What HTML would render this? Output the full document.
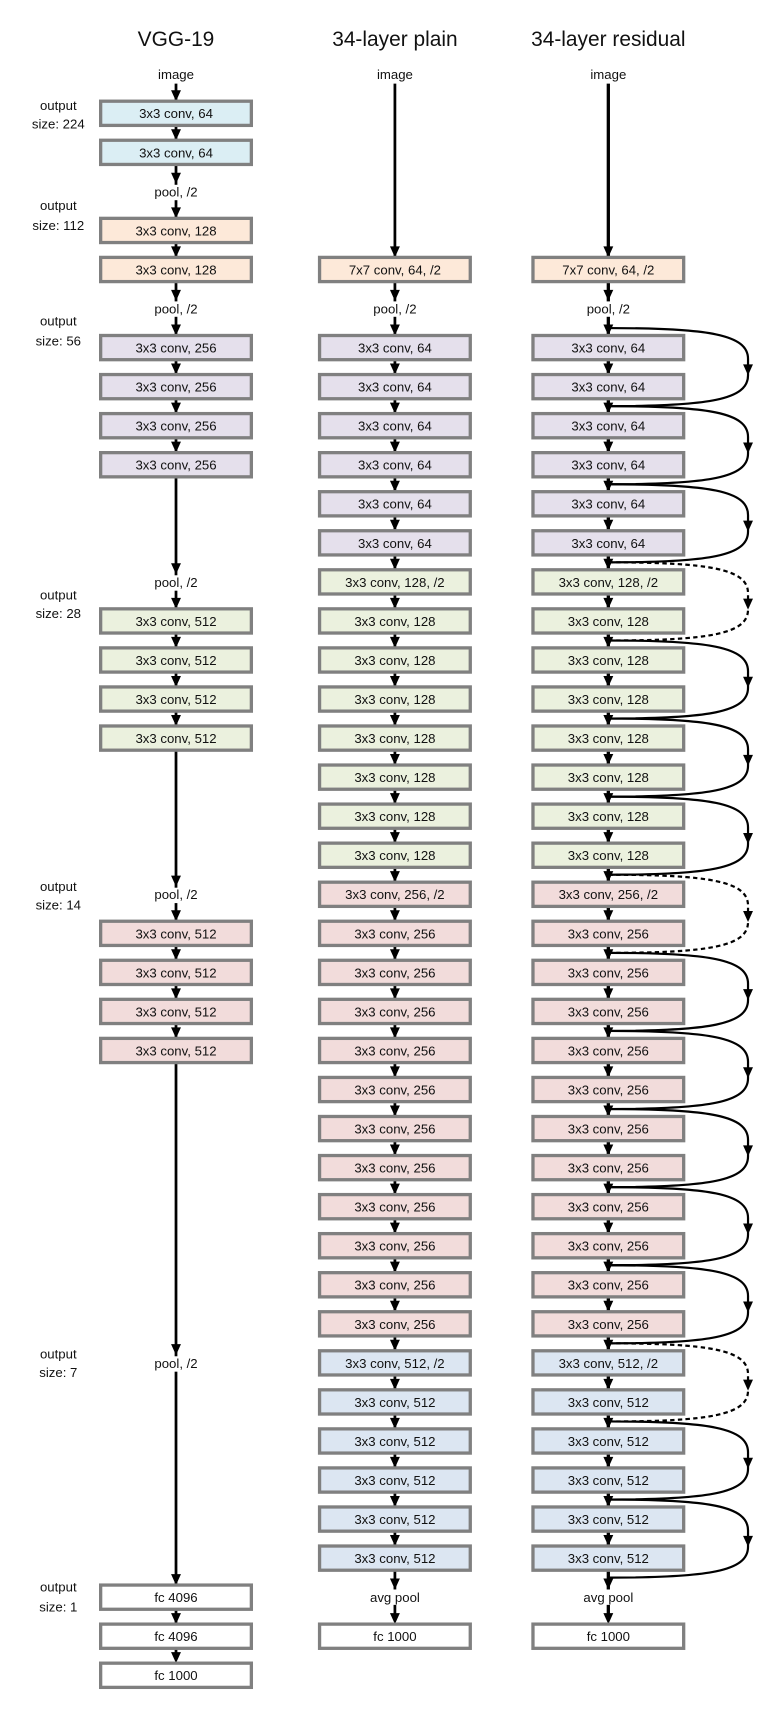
<!DOCTYPE html>
<html><head><meta charset="utf-8"><style>
html,body{margin:0;padding:0;background:#fff}
svg{display:block}
text{font-family:"Liberation Sans",sans-serif;font-size:12px;fill:#111;text-anchor:middle}
.t{font-size:19px}
.o{font-size:12px}
rect.b{stroke:#808080;stroke-width:3}
.c1{fill:#dbeef4}.c2{fill:#fde9d9}.c3{fill:#e5e0ec}.c4{fill:#ebf1de}.c5{fill:#f2dcdb}.c6{fill:#dce6f2}.c7{fill:#fff}
</style></head><body>
<svg width="784" height="1713" viewBox="0 0 712.7 1557.3" preserveAspectRatio="none" xmlns="http://www.w3.org/2000/svg">
<defs>
<polygon id="a" points="-4.5,-10 4.5,-10 0,0" fill="#000"/>
<g id="sk"><path d="M553,0 C645,0 680,6 680,28 L680,43 C680,65 645,71 553,71" fill="none" stroke="#000" stroke-width="2"/><polygon points="675.5,33 684.5,33 680,43" fill="#000"/></g>
<g id="skd"><path d="M553,0 C645,0 680,6 680,28 L680,43 C680,65 645,71 553,71" fill="none" stroke="#000" stroke-width="2" stroke-dasharray="4,3"/><polygon points="675.5,33 684.5,33 680,43" fill="#000"/></g>
</defs>

<text class="t" x="160" y="42">VGG-19</text>
<text class="t" x="359" y="42">34-layer plain</text>
<text class="t" x="553" y="42">34-layer residual</text>

<g class="o">
<text x="53" y="100">output</text><text x="53" y="117">size: 224</text>
<text x="53" y="191">output</text><text x="53" y="209">size: 112</text>
<text x="53" y="296">output</text><text x="53" y="314">size: 56</text>
<text x="53" y="545">output</text><text x="53" y="562">size: 28</text>
<text x="53" y="810">output</text><text x="53" y="827">size: 14</text>
<text x="53" y="1235">output</text><text x="53" y="1252">size: 7</text>
<text x="53" y="1447">output</text><text x="53" y="1465">size: 1</text>
</g>

<use href="#sk" y="298.25"/><use href="#sk" y="369.25"/><use href="#sk" y="440.25"/>
<use href="#skd" y="511.25"/>
<use href="#sk" y="582.25"/><use href="#sk" y="653.25"/><use href="#sk" y="724.25"/>
<use href="#skd" y="795.25"/>
<use href="#sk" y="866.25"/><use href="#sk" y="937.25"/><use href="#sk" y="1008.25"/><use href="#sk" y="1079.25"/><use href="#sk" y="1150.25"/>
<use href="#skd" y="1221.25"/>
<use href="#sk" y="1292.25"/><use href="#sk" y="1363.25"/>

<g transform="translate(160,0)">
<line x1="0" y1="76" x2="0" y2="1505" stroke="#000" stroke-width="2.5"/>
<rect x="-30" y="168" width="60" height="14" fill="#fff"/>
<rect x="-30" y="274" width="60" height="14" fill="#fff"/>
<rect x="-30" y="523" width="60" height="14" fill="#fff"/>
<rect x="-30" y="807" width="60" height="14" fill="#fff"/>
<rect x="-30" y="1233" width="60" height="14" fill="#fff"/>
<text x="0" y="72">image</text>
<text x="0" y="178.5">pool, /2</text>
<text x="0" y="285">pool, /2</text>
<text x="0" y="533.5">pool, /2</text>
<text x="0" y="817.5">pool, /2</text>
<text x="0" y="1243.5">pool, /2</text>
<use href="#a" y="92"/><use href="#a" y="127.5"/><use href="#a" y="167"/><use href="#a" y="198.5"/><use href="#a" y="234"/><use href="#a" y="273.5"/>
<use href="#a" y="305"/><use href="#a" y="340.5"/><use href="#a" y="376"/><use href="#a" y="411.5"/><use href="#a" y="522"/>
<use href="#a" y="553.5"/><use href="#a" y="589"/><use href="#a" y="624.5"/><use href="#a" y="660"/><use href="#a" y="806"/>
<use href="#a" y="837.5"/><use href="#a" y="873"/><use href="#a" y="908.5"/><use href="#a" y="944"/><use href="#a" y="1232"/>
<use href="#a" y="1441"/><use href="#a" y="1476.5"/><use href="#a" y="1512"/>
<rect class="b c1" x="-68.5" y="92" width="137" height="22"/><text x="0" y="107.5">3x3 conv, 64</text>
<rect class="b c1" x="-68.5" y="127.5" width="137" height="22"/><text x="0" y="143">3x3 conv, 64</text>
<rect class="b c2" x="-68.5" y="198.5" width="137" height="22"/><text x="0" y="214">3x3 conv, 128</text>
<rect class="b c2" x="-68.5" y="234" width="137" height="22"/><text x="0" y="249.5">3x3 conv, 128</text>
<rect class="b c3" x="-68.5" y="305" width="137" height="22"/><text x="0" y="320.5">3x3 conv, 256</text>
<rect class="b c3" x="-68.5" y="340.5" width="137" height="22"/><text x="0" y="356">3x3 conv, 256</text>
<rect class="b c3" x="-68.5" y="376" width="137" height="22"/><text x="0" y="391.5">3x3 conv, 256</text>
<rect class="b c3" x="-68.5" y="411.5" width="137" height="22"/><text x="0" y="427">3x3 conv, 256</text>
<rect class="b c4" x="-68.5" y="553.5" width="137" height="22"/><text x="0" y="569">3x3 conv, 512</text>
<rect class="b c4" x="-68.5" y="589" width="137" height="22"/><text x="0" y="604.5">3x3 conv, 512</text>
<rect class="b c4" x="-68.5" y="624.5" width="137" height="22"/><text x="0" y="640">3x3 conv, 512</text>
<rect class="b c4" x="-68.5" y="660" width="137" height="22"/><text x="0" y="675.5">3x3 conv, 512</text>
<rect class="b c5" x="-68.5" y="837.5" width="137" height="22"/><text x="0" y="853">3x3 conv, 512</text>
<rect class="b c5" x="-68.5" y="873" width="137" height="22"/><text x="0" y="888.5">3x3 conv, 512</text>
<rect class="b c5" x="-68.5" y="908.5" width="137" height="22"/><text x="0" y="924">3x3 conv, 512</text>
<rect class="b c5" x="-68.5" y="944" width="137" height="22"/><text x="0" y="959.5">3x3 conv, 512</text>
<rect class="b c7" x="-68.5" y="1441" width="137" height="22"/><text x="0" y="1456.5">fc 4096</text>
<rect class="b c7" x="-68.5" y="1476.5" width="137" height="22"/><text x="0" y="1492">fc 4096</text>
<rect class="b c7" x="-68.5" y="1512" width="137" height="22"/><text x="0" y="1527.5">fc 1000</text>
</g>

<g transform="translate(359,0)">
<line x1="0" y1="76" x2="0" y2="1470" stroke="#000" stroke-width="2.5"/>
<rect x="-30" y="274" width="60" height="14" fill="#fff"/>
<rect x="-30" y="1445" width="60" height="14" fill="#fff"/>
<text x="0" y="72">image</text>
<text x="0" y="285">pool, /2</text>
<text x="0" y="1456.5">avg pool</text>
<use href="#a" y="234"/><use href="#a" y="273.5"/>
<use href="#a" y="305"/><use href="#a" y="340.5"/><use href="#a" y="376"/><use href="#a" y="411.5"/><use href="#a" y="447"/><use href="#a" y="482.5"/>
<use href="#a" y="518"/><use href="#a" y="553.5"/><use href="#a" y="589"/><use href="#a" y="624.5"/><use href="#a" y="660"/><use href="#a" y="695.5"/><use href="#a" y="731"/><use href="#a" y="766.5"/>
<use href="#a" y="802"/><use href="#a" y="837.5"/><use href="#a" y="873"/><use href="#a" y="908.5"/><use href="#a" y="944"/><use href="#a" y="979.5"/><use href="#a" y="1015"/><use href="#a" y="1050.5"/><use href="#a" y="1086"/><use href="#a" y="1121.5"/><use href="#a" y="1157"/><use href="#a" y="1192.5"/>
<use href="#a" y="1228"/><use href="#a" y="1263.5"/><use href="#a" y="1299"/><use href="#a" y="1334.5"/><use href="#a" y="1370"/><use href="#a" y="1405.5"/><use href="#a" y="1445"/><use href="#a" y="1476.5"/>
<rect class="b c2" x="-68.5" y="234" width="137" height="22"/><text x="0" y="249.5">7x7 conv, 64, /2</text>
<rect class="b c3" x="-68.5" y="305" width="137" height="22"/><text x="0" y="320.5">3x3 conv, 64</text>
<rect class="b c3" x="-68.5" y="340.5" width="137" height="22"/><text x="0" y="356">3x3 conv, 64</text>
<rect class="b c3" x="-68.5" y="376" width="137" height="22"/><text x="0" y="391.5">3x3 conv, 64</text>
<rect class="b c3" x="-68.5" y="411.5" width="137" height="22"/><text x="0" y="427">3x3 conv, 64</text>
<rect class="b c3" x="-68.5" y="447" width="137" height="22"/><text x="0" y="462.5">3x3 conv, 64</text>
<rect class="b c3" x="-68.5" y="482.5" width="137" height="22"/><text x="0" y="498">3x3 conv, 64</text>
<rect class="b c4" x="-68.5" y="518" width="137" height="22"/><text x="0" y="533.5">3x3 conv, 128, /2</text>
<rect class="b c4" x="-68.5" y="553.5" width="137" height="22"/><text x="0" y="569">3x3 conv, 128</text>
<rect class="b c4" x="-68.5" y="589" width="137" height="22"/><text x="0" y="604.5">3x3 conv, 128</text>
<rect class="b c4" x="-68.5" y="624.5" width="137" height="22"/><text x="0" y="640">3x3 conv, 128</text>
<rect class="b c4" x="-68.5" y="660" width="137" height="22"/><text x="0" y="675.5">3x3 conv, 128</text>
<rect class="b c4" x="-68.5" y="695.5" width="137" height="22"/><text x="0" y="711">3x3 conv, 128</text>
<rect class="b c4" x="-68.5" y="731" width="137" height="22"/><text x="0" y="746.5">3x3 conv, 128</text>
<rect class="b c4" x="-68.5" y="766.5" width="137" height="22"/><text x="0" y="782">3x3 conv, 128</text>
<rect class="b c5" x="-68.5" y="802" width="137" height="22"/><text x="0" y="817.5">3x3 conv, 256, /2</text>
<rect class="b c5" x="-68.5" y="837.5" width="137" height="22"/><text x="0" y="853">3x3 conv, 256</text>
<rect class="b c5" x="-68.5" y="873" width="137" height="22"/><text x="0" y="888.5">3x3 conv, 256</text>
<rect class="b c5" x="-68.5" y="908.5" width="137" height="22"/><text x="0" y="924">3x3 conv, 256</text>
<rect class="b c5" x="-68.5" y="944" width="137" height="22"/><text x="0" y="959.5">3x3 conv, 256</text>
<rect class="b c5" x="-68.5" y="979.5" width="137" height="22"/><text x="0" y="995">3x3 conv, 256</text>
<rect class="b c5" x="-68.5" y="1015" width="137" height="22"/><text x="0" y="1030.5">3x3 conv, 256</text>
<rect class="b c5" x="-68.5" y="1050.5" width="137" height="22"/><text x="0" y="1066">3x3 conv, 256</text>
<rect class="b c5" x="-68.5" y="1086" width="137" height="22"/><text x="0" y="1101.5">3x3 conv, 256</text>
<rect class="b c5" x="-68.5" y="1121.5" width="137" height="22"/><text x="0" y="1137">3x3 conv, 256</text>
<rect class="b c5" x="-68.5" y="1157" width="137" height="22"/><text x="0" y="1172.5">3x3 conv, 256</text>
<rect class="b c5" x="-68.5" y="1192.5" width="137" height="22"/><text x="0" y="1208">3x3 conv, 256</text>
<rect class="b c6" x="-68.5" y="1228" width="137" height="22"/><text x="0" y="1243.5">3x3 conv, 512, /2</text>
<rect class="b c6" x="-68.5" y="1263.5" width="137" height="22"/><text x="0" y="1279">3x3 conv, 512</text>
<rect class="b c6" x="-68.5" y="1299" width="137" height="22"/><text x="0" y="1314.5">3x3 conv, 512</text>
<rect class="b c6" x="-68.5" y="1334.5" width="137" height="22"/><text x="0" y="1350">3x3 conv, 512</text>
<rect class="b c6" x="-68.5" y="1370" width="137" height="22"/><text x="0" y="1385.5">3x3 conv, 512</text>
<rect class="b c6" x="-68.5" y="1405.5" width="137" height="22"/><text x="0" y="1421">3x3 conv, 512</text>
<rect class="b c7" x="-68.5" y="1476.5" width="137" height="22"/><text x="0" y="1492">fc 1000</text>
</g>

<g transform="translate(553,0)">
<line x1="0" y1="76" x2="0" y2="1470" stroke="#000" stroke-width="3"/>
<rect x="-30" y="274" width="60" height="14" fill="#fff"/>
<rect x="-30" y="1445" width="60" height="14" fill="#fff"/>
<text x="0" y="72">image</text>
<text x="0" y="285">pool, /2</text>
<text x="0" y="1456.5">avg pool</text>
<use href="#a" y="234"/><use href="#a" y="273.5"/>
<use href="#a" y="305"/><use href="#a" y="340.5"/><use href="#a" y="376"/><use href="#a" y="411.5"/><use href="#a" y="447"/><use href="#a" y="482.5"/>
<use href="#a" y="518"/><use href="#a" y="553.5"/><use href="#a" y="589"/><use href="#a" y="624.5"/><use href="#a" y="660"/><use href="#a" y="695.5"/><use href="#a" y="731"/><use href="#a" y="766.5"/>
<use href="#a" y="802"/><use href="#a" y="837.5"/><use href="#a" y="873"/><use href="#a" y="908.5"/><use href="#a" y="944"/><use href="#a" y="979.5"/><use href="#a" y="1015"/><use href="#a" y="1050.5"/><use href="#a" y="1086"/><use href="#a" y="1121.5"/><use href="#a" y="1157"/><use href="#a" y="1192.5"/>
<use href="#a" y="1228"/><use href="#a" y="1263.5"/><use href="#a" y="1299"/><use href="#a" y="1334.5"/><use href="#a" y="1370"/><use href="#a" y="1405.5"/><use href="#a" y="1445"/><use href="#a" y="1476.5"/>
<rect class="b c2" x="-68.5" y="234" width="137" height="22"/><text x="0" y="249.5">7x7 conv, 64, /2</text>
<rect class="b c3" x="-68.5" y="305" width="137" height="22"/><text x="0" y="320.5">3x3 conv, 64</text>
<rect class="b c3" x="-68.5" y="340.5" width="137" height="22"/><text x="0" y="356">3x3 conv, 64</text>
<rect class="b c3" x="-68.5" y="376" width="137" height="22"/><text x="0" y="391.5">3x3 conv, 64</text>
<rect class="b c3" x="-68.5" y="411.5" width="137" height="22"/><text x="0" y="427">3x3 conv, 64</text>
<rect class="b c3" x="-68.5" y="447" width="137" height="22"/><text x="0" y="462.5">3x3 conv, 64</text>
<rect class="b c3" x="-68.5" y="482.5" width="137" height="22"/><text x="0" y="498">3x3 conv, 64</text>
<rect class="b c4" x="-68.5" y="518" width="137" height="22"/><text x="0" y="533.5">3x3 conv, 128, /2</text>
<rect class="b c4" x="-68.5" y="553.5" width="137" height="22"/><text x="0" y="569">3x3 conv, 128</text>
<rect class="b c4" x="-68.5" y="589" width="137" height="22"/><text x="0" y="604.5">3x3 conv, 128</text>
<rect class="b c4" x="-68.5" y="624.5" width="137" height="22"/><text x="0" y="640">3x3 conv, 128</text>
<rect class="b c4" x="-68.5" y="660" width="137" height="22"/><text x="0" y="675.5">3x3 conv, 128</text>
<rect class="b c4" x="-68.5" y="695.5" width="137" height="22"/><text x="0" y="711">3x3 conv, 128</text>
<rect class="b c4" x="-68.5" y="731" width="137" height="22"/><text x="0" y="746.5">3x3 conv, 128</text>
<rect class="b c4" x="-68.5" y="766.5" width="137" height="22"/><text x="0" y="782">3x3 conv, 128</text>
<rect class="b c5" x="-68.5" y="802" width="137" height="22"/><text x="0" y="817.5">3x3 conv, 256, /2</text>
<rect class="b c5" x="-68.5" y="837.5" width="137" height="22"/><text x="0" y="853">3x3 conv, 256</text>
<rect class="b c5" x="-68.5" y="873" width="137" height="22"/><text x="0" y="888.5">3x3 conv, 256</text>
<rect class="b c5" x="-68.5" y="908.5" width="137" height="22"/><text x="0" y="924">3x3 conv, 256</text>
<rect class="b c5" x="-68.5" y="944" width="137" height="22"/><text x="0" y="959.5">3x3 conv, 256</text>
<rect class="b c5" x="-68.5" y="979.5" width="137" height="22"/><text x="0" y="995">3x3 conv, 256</text>
<rect class="b c5" x="-68.5" y="1015" width="137" height="22"/><text x="0" y="1030.5">3x3 conv, 256</text>
<rect class="b c5" x="-68.5" y="1050.5" width="137" height="22"/><text x="0" y="1066">3x3 conv, 256</text>
<rect class="b c5" x="-68.5" y="1086" width="137" height="22"/><text x="0" y="1101.5">3x3 conv, 256</text>
<rect class="b c5" x="-68.5" y="1121.5" width="137" height="22"/><text x="0" y="1137">3x3 conv, 256</text>
<rect class="b c5" x="-68.5" y="1157" width="137" height="22"/><text x="0" y="1172.5">3x3 conv, 256</text>
<rect class="b c5" x="-68.5" y="1192.5" width="137" height="22"/><text x="0" y="1208">3x3 conv, 256</text>
<rect class="b c6" x="-68.5" y="1228" width="137" height="22"/><text x="0" y="1243.5">3x3 conv, 512, /2</text>
<rect class="b c6" x="-68.5" y="1263.5" width="137" height="22"/><text x="0" y="1279">3x3 conv, 512</text>
<rect class="b c6" x="-68.5" y="1299" width="137" height="22"/><text x="0" y="1314.5">3x3 conv, 512</text>
<rect class="b c6" x="-68.5" y="1334.5" width="137" height="22"/><text x="0" y="1350">3x3 conv, 512</text>
<rect class="b c6" x="-68.5" y="1370" width="137" height="22"/><text x="0" y="1385.5">3x3 conv, 512</text>
<rect class="b c6" x="-68.5" y="1405.5" width="137" height="22"/><text x="0" y="1421">3x3 conv, 512</text>
<rect class="b c7" x="-68.5" y="1476.5" width="137" height="22"/><text x="0" y="1492">fc 1000</text>
</g>
</svg>
</body></html>
